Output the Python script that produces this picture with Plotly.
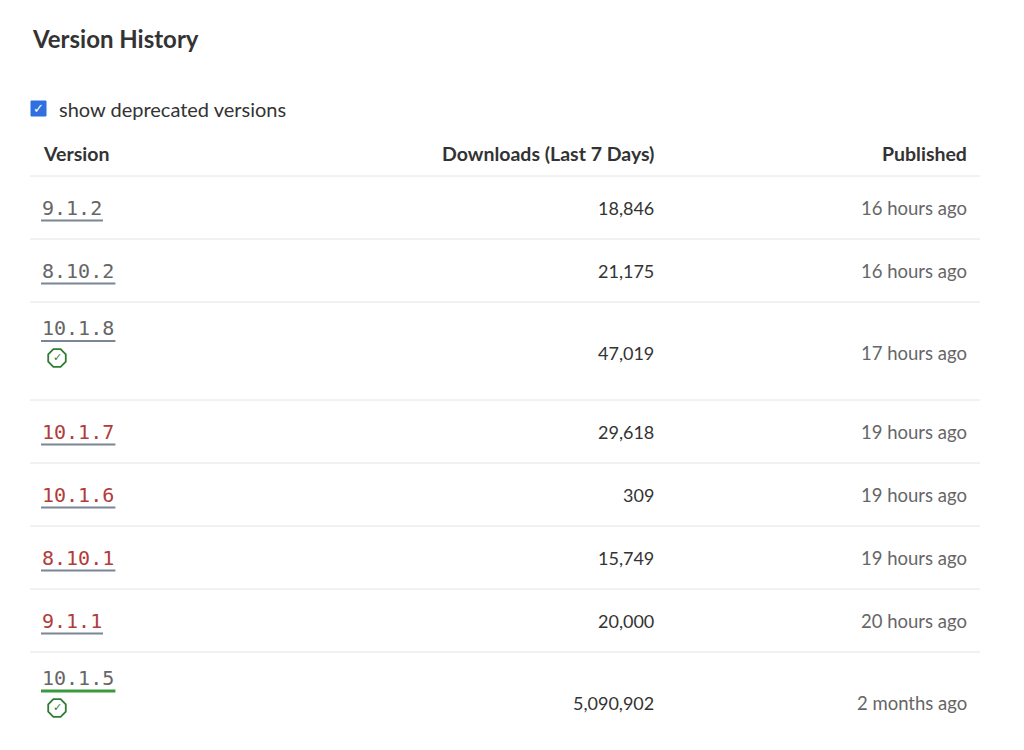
import plotly.graph_objects as go

# table data
versions = ["9.1.2", "8.10.2", "10.1.8", "10.1.7", "10.1.6", "8.10.1", "9.1.1", "10.1.5"]
downloads = [18846, 21175, 47019, 29618, 309, 15749, 20000, 5090902]
published = ["16 hours ago", "16 hours ago", "17 hours ago", "19 hours ago",
             "19 hours ago", "19 hours ago", "20 hours ago", "2 months ago"]
deprecated = [False, False, False, True, True, True, True, False]
verified = [False, False, True, False, False, False, False, True]
headers = ["Version", "Downloads (Last 7 Days)", "Published"]

W, H = 1024, 750
PAD = 8  # page body margin
SANS = "Source Sans Pro, Lato, Open Sans, sans-serif"
MONO = "DejaVu Sans Mono, monospace"

fig = go.Figure()
shapes = []
ann = []

# outer frame
shapes.append(dict(type="rect", x0=5, y0=5, x1=1017, y1=745,
                   line=dict(color="#555", width=2)))

ann.append(dict(x=30, y=38, text="<b>Version History</b>", xanchor="left",
                font=dict(family=SANS, size=24, color="#333")))

# checkbox
shapes.append(dict(type="rect", x0=31, y0=101, x1=46, y1=116,
                   fillcolor="#2f6fdf", line=dict(color="#2f6fdf", width=1)))
ann.append(dict(x=38.5, y=108, text="✓", font=dict(size=13, color="white"), xanchor="center"))
ann.append(dict(x=57, y=109, text="show deprecated versions", xanchor="left",
                font=dict(family=SANS, size=20, color="#333")))

# header
ann.append(dict(x=41, y=153, text="<b>" + headers[0] + "</b>", xanchor="left",
                font=dict(family=SANS, size=19.5, color="#333")))
ann.append(dict(x=656, y=153, text="<b>" + headers[1] + "</b>", xanchor="right",
                font=dict(family=SANS, size=19.5, color="#333")))
ann.append(dict(x=969, y=153, text="<b>" + headers[2] + "</b>", xanchor="right",
                font=dict(family=SANS, size=19.5, color="#333")))

# rows
y = 176
shapes.append(dict(type="line", x0=30, x1=980, y0=y, y1=y, line=dict(color="#e4e4e4", width=1)))
badge_x, badge_y = [], []
for v, d, p, dep, ver in zip(versions, downloads, published, deprecated, verified):
    h = 98 if ver else 63
    ty = y + 26
    mid = y + h / 2 + (2 if ver else 0)
    if not ver:
        ty = mid
    color = "#b23b3b" if dep else "#666"
    ann.append(dict(x=40, y=ty, text=v, xanchor="left",
                    font=dict(family=MONO, size=20, color=color)))
    uw = len(v) * 12.4
    uc = "#3b9a3b" if v == "10.1.5" else "#7a8696"
    shapes.append(dict(type="line", x0=41, x1=41 + uw, y0=ty + 13, y1=ty + 13,
                       line=dict(color=uc, width=3 if v == "10.1.5" else 2)))
    if ver:
        badge_x.append(57)
        badge_y.append(ty + 30)
    ann.append(dict(x=656, y=mid, text=f"{d:,}", xanchor="right",
                    font=dict(family=SANS, size=18, color="#333")))
    ann.append(dict(x=969, y=mid, text=p, xanchor="right",
                    font=dict(family=SANS, size=18.5, color="#666")))
    y += h
    if v != versions[-1]:
        shapes.append(dict(type="line", x0=30, x1=980, y0=y, y1=y,
                           line=dict(color="#e4e4e4", width=1)))

fig.add_trace(go.Scatter(x=badge_x, y=badge_y, mode="markers+text", text=["✓"] * len(badge_x),
                         textfont=dict(size=11, color="#2e7d32"), textposition="middle center",
                         marker=dict(symbol="octagon-open", size=19, color="#2e7d32",
                                     line=dict(width=1.8)),
                         hoverinfo="skip", showlegend=False))

for a in ann:
    a.update(xref="x", yref="y", showarrow=False, yanchor="middle")

# the page has an 8px body margin, so the figure covers page pixels PAD..W-PAD
fig.update_layout(
    width=W - 2 * PAD, height=H - 2 * PAD, margin=dict(l=0, r=0, t=0, b=0),
    plot_bgcolor="white", paper_bgcolor="white",
    xaxis=dict(range=[PAD, W - PAD], visible=False, fixedrange=True),
    yaxis=dict(range=[H - PAD, PAD], visible=False, fixedrange=True),
    shapes=shapes, annotations=ann,
)

fig.write_html("out.html")
